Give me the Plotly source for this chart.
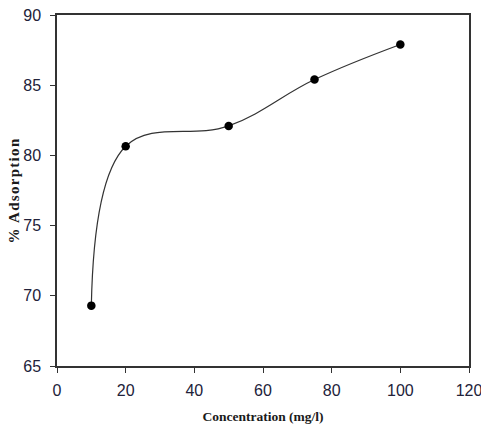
import plotly.graph_objects as go

concentration = [10, 20, 50, 75, 100]
adsorption = [69.3, 80.65, 82.1, 85.4, 87.9]

x_ticks = [0, 20, 40, 60, 80, 100, 120]
y_ticks = [65, 70, 75, 80, 85, 90]

x_title = "Concentration (mg/l)"
y_title = "% Adsorption"

fig = go.Figure()
fig.add_trace(go.Scatter(
    x=concentration, y=adsorption,
    mode="lines+markers",
    line=dict(color="#333333", width=1.2, shape="spline", smoothing=1.1),
    marker=dict(color="black", size=8.5),
    showlegend=False,
))

tick_font = dict(family="Liberation Sans Narrow, Arial Narrow, sans-serif", size=16, color="#22223a")
x_title_font = dict(family="Liberation Serif, Times New Roman, serif", size=13.5, color="#1a1a1a")
y_title_font = dict(family="Liberation Serif, Times New Roman, serif", size=15, color="#1a1a1a")

fig.update_layout(
    width=481, height=434,
    margin=dict(l=57, r=12, t=15, b=68),
    paper_bgcolor="white", plot_bgcolor="white",
    xaxis=dict(
        range=[0, 120], tickvals=x_ticks, ticks="outside", ticklen=5, tickwidth=1.2,
        tickcolor="#333", showline=True, linecolor="#333", linewidth=1.5, mirror=True,
        showgrid=False, zeroline=False, tickfont=tick_font, automargin=False,
        ticklabelstandoff=4, ticklabeloverflow="allow",
        title=dict(text="<b>" + x_title + "</b>", font=x_title_font, standoff=14),
    ),
    yaxis=dict(
        range=[65, 90], tickvals=y_ticks, ticks="outside", ticklen=5, tickwidth=1.2,
        tickcolor="#333", showline=True, linecolor="#333", linewidth=1.5, mirror=True,
        showgrid=False, zeroline=False, tickfont=tick_font, automargin=False,
        ticklabelstandoff=6, ticklabeloverflow="allow",
        title=dict(
            text="<b><span style='letter-spacing:1.3px'>" + y_title + "</span></b>",
            font=y_title_font, standoff=0,
        ),
    ),
)

fig.write_html(
    "out.html",
    config={"displayModeBar": False},
    post_script="document.body.style.margin='0';document.body.style.overflow='hidden';",
)
